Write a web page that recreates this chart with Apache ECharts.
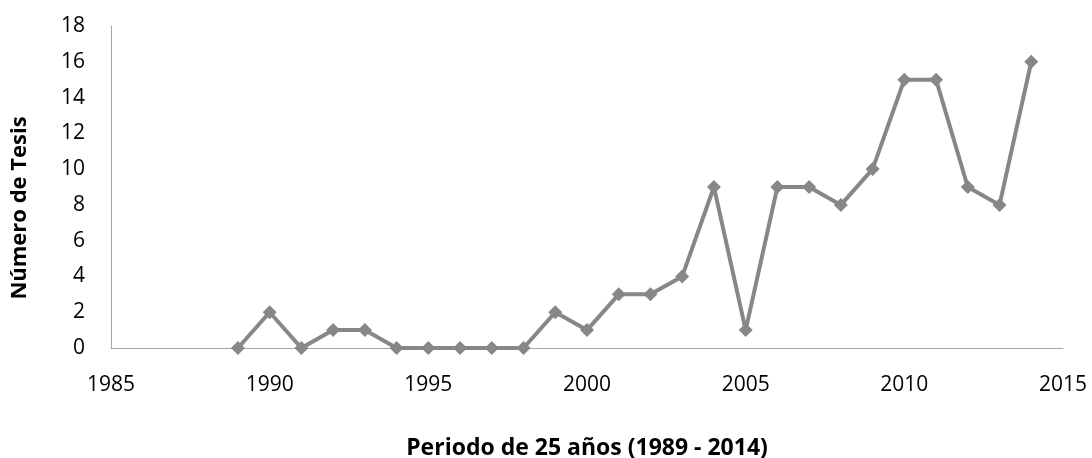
<!DOCTYPE html>
<html lang="es">
<head>
  <meta charset="UTF-8">
  <title>Tesis por año</title>
  <style>
    body{
      margin: 0;
    }
    .chart{
      width: 1092px;
      height: 458px;
      background: white;
    }
  </style>
</head>
<body>
<div class="chart"></div>
<script src="https://cdn.jsdelivr.net/npm/echarts@6/dist/echarts.min.js"></script>
<script>
  const years = [1989, 1990, 1991, 1992, 1993, 1994, 1995, 1996, 1997, 1998, 1999, 2000, 2001,
    2002, 2003, 2004, 2005, 2006, 2007, 2008, 2009, 2010, 2011, 2012, 2013, 2014];
  const tesis = [0, 2, 0, 1, 1, 0, 0, 0, 0, 0, 2, 1, 3, 3, 4, 9, 1, 9, 9, 8, 10, 15, 15, 9, 8, 16];
  const xTitle = 'Periodo de 25 años (1989 - 2014)';
  const yTitle = 'Número de Tesis';

  const font = '"Open Sans", sans-serif';
  const container = document.querySelector('.chart');
  const instance = echarts.init(container);
  const option = {
    animation: false,
    grid: {
      left: 111,
      right: 29,
      top: 26,
      bottom: 110,
      outerBoundsMode: 'none'
    },
    xAxis: {
      type: 'value',
      min: 1985,
      max: 2015,
      interval: 5,
      name: xTitle,
      nameLocation: 'middle',
      nameGap: 88,
      nameTextStyle: {
        fontFamily: font,
        fontWeight: 'bold',
        fontSize: 23,
        lineHeight: 24,
        color: '#000'
      },
      axisLine: { lineStyle: { color: '#a6a6a6', width: 1 } },
      axisTick: { show: false },
      splitLine: { show: false },
      axisLabel: {
        margin: 27,
        fontFamily: font,
        fontSize: 21,
        color: '#000',
        formatter: (v) => String(v)
      }
    },
    yAxis: {
      type: 'value',
      min: 0,
      max: 18,
      interval: 2,
      name: yTitle,
      nameLocation: 'middle',
      nameGap: 80,
      nameRotate: 90,
      nameTextStyle: {
        fontFamily: font,
        fontWeight: 'bold',
        fontSize: 22,
        color: '#000',
        padding: [0, 42, 0, 0]
      },
      axisLine: { show: true, lineStyle: { color: '#a6a6a6', width: 1 } },
      axisTick: { show: false },
      splitLine: { show: false },
      axisLabel: {
        margin: 26,
        fontFamily: font,
        fontSize: 21,
        color: '#000'
      }
    },
    series: [
      {
        type: 'line',
        data: years.map((y, i) => [y, tesis[i]]),
        symbol: 'diamond',
        symbolSize: 14,
        lineStyle: { color: '#878787', width: 4 },
        itemStyle: { color: '#878787' }
      }
    ]
  };
  instance.setOption(option);
</script>
</body>
</html>
